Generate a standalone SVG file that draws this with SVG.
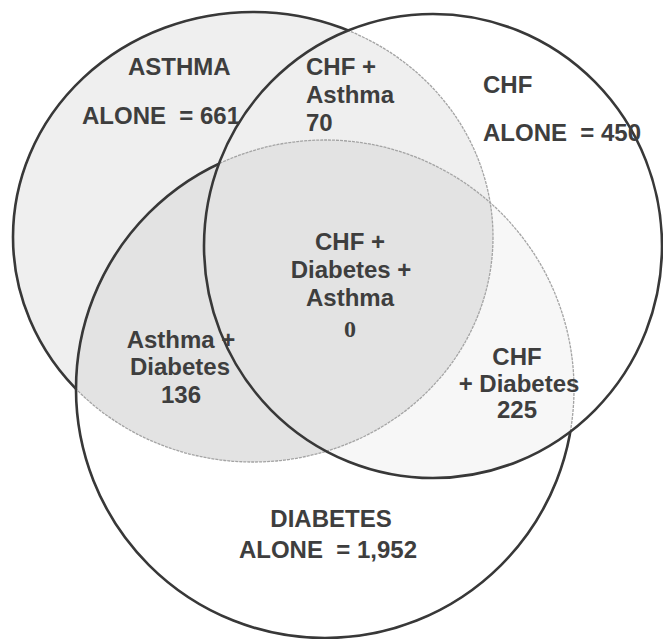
<svg xmlns="http://www.w3.org/2000/svg" width="663" height="639" viewBox="0 0 663 639">
<style>
.lbl{font-family:"Liberation Sans",Arial,sans-serif;font-weight:bold;font-size:24px;fill:#3e3e3e;white-space:pre}
.mid{text-anchor:middle}
.zero{font-family:"Liberation Serif","Times New Roman",serif;font-weight:bold;font-size:24px;fill:#3e3e3e;text-anchor:middle}
.dark{fill:none;stroke:#383838;stroke-width:2.6}
.faint{fill:none;stroke:#a4a4a4;stroke-width:1.3;stroke-dasharray:3 1}
</style>
<defs>
<ellipse id="eA" cx="253" cy="237" rx="240" ry="225"/>
<ellipse id="eC" cx="433" cy="246" rx="229" ry="232"/>
<circle id="eD" cx="325" cy="389" r="249"/>
<clipPath id="clipA"><use href="#eA"/></clipPath>
<clipPath id="clipC"><use href="#eC"/></clipPath>
<mask id="outC"><rect width="663" height="639" fill="#fff"/><use href="#eC" fill="#000"/></mask>
<mask id="outCD"><rect width="663" height="639" fill="#fff"/><use href="#eC" fill="#000"/><use href="#eD" fill="#000"/></mask>
</defs>
<rect width="663" height="639" fill="#fff"/>
<g id="shading">
<use href="#eD" fill="#f7f7f7" clip-path="url(#clipC)"/>
<use href="#eA" fill="#efefef"/>
<use href="#eD" fill="#e3e3e3" clip-path="url(#clipA)"/>
</g>
<g id="connectors">
<use href="#eA" class="faint"/>
<use href="#eD" class="faint"/>
</g>
<g id="asthma-circle"><use href="#eA" class="dark" mask="url(#outCD)"/></g>
<g id="diabetes-circle"><use href="#eD" class="dark" mask="url(#outC)"/></g>
<g id="chf-circle"><use href="#eC" class="dark"/></g>
<g id="asthma-alone">
<text class="lbl" x="128" y="75">ASTHMA</text>
<text class="lbl" x="82" y="124">ALONE  = 661</text>
</g>
<g id="chf-asthma">
<text class="lbl" x="306" y="75">CHF +</text>
<text class="lbl" x="306" y="103">Asthma</text>
<text class="lbl" x="306" y="131">70</text>
</g>
<g id="chf-alone">
<text class="lbl" x="483" y="93">CHF</text>
<text class="lbl" x="483" y="141">ALONE  = 450</text>
</g>
<g id="all-three">
<text class="lbl mid" x="350" y="250">CHF +</text>
<text class="lbl mid" x="351" y="278">Diabetes +</text>
<text class="lbl mid" x="350" y="306">Asthma</text>
<text class="zero" x="350" y="337">0</text>
</g>
<g id="asthma-diabetes">
<text class="lbl mid" x="181" y="348">Asthma +</text>
<text class="lbl mid" x="180" y="375">Diabetes</text>
<text class="lbl mid" x="181" y="403">136</text>
</g>
<g id="chf-diabetes">
<text class="lbl mid" x="517" y="365">CHF</text>
<text class="lbl mid" x="519" y="392">+ Diabetes</text>
<text class="lbl mid" x="517" y="418">225</text>
</g>
<g id="diabetes-alone">
<text class="lbl mid" x="331" y="527">DIABETES</text>
<text class="lbl mid" x="328" y="558">ALONE  = 1,952</text>
</g>
</svg>
